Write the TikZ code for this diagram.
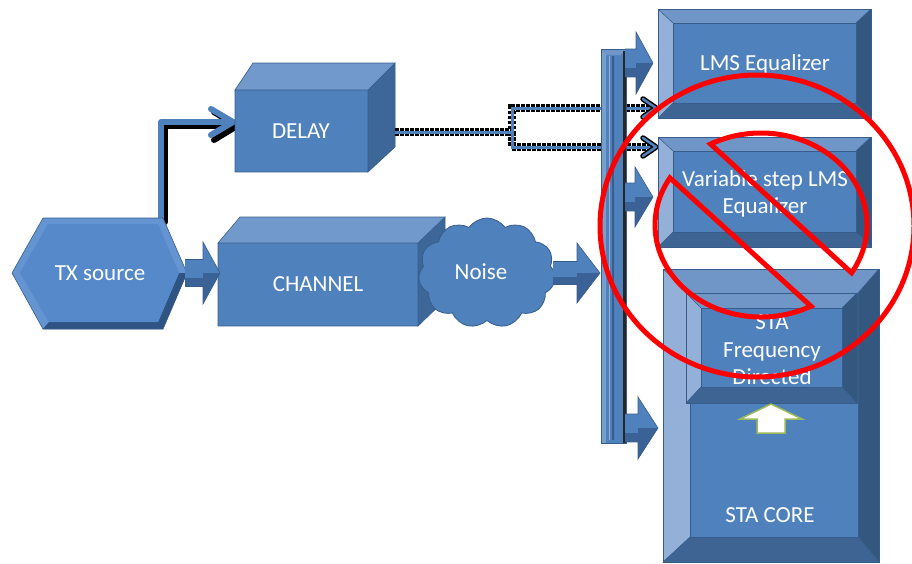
\documentclass[tikz,border=0pt]{standalone}
\usepackage{fontspec}
\setmainfont{Carlito}
\usetikzlibrary{shapes.symbols,arrows.meta,calc}
\definecolor{bmain}{HTML}{4F81BD}
\definecolor{btop}{HTML}{7199CB}
\definecolor{bside}{HTML}{3D6699}
\definecolor{bline}{HTML}{385D8A}
\definecolor{bevLeft}{HTML}{93B1D8}
\definecolor{bevTop}{HTML}{7096C8}
\definecolor{bevRight}{HTML}{34577F}
\definecolor{bevBot}{HTML}{3E6494}
\definecolor{hexface}{HTML}{5589C9}
\definecolor{hexdark}{HTML}{2F5382}
\definecolor{hexlight}{HTML}{6494D2}
\definecolor{adark}{HTML}{3A6296}
\definecolor{upgreen}{HTML}{9BBB59}
\newcommand{\mybevbox}[8]{%
  \fill[bevTop] (#1,#2) -- (#3,#2) -- ({#3-#7},{#2+#6}) -- ({#1+#5},{#2+#6}) -- cycle;
  \fill[bevLeft] (#1,#2) -- ({#1+#5},{#2+#6}) -- ({#1+#5},{#4-#8}) -- (#1,#4) -- cycle;
  \fill[bevRight] (#3,#2) -- (#3,#4) -- ({#3-#7},{#4-#8}) -- ({#3-#7},{#2+#6}) -- cycle;
  \fill[bevBot] (#1,#4) -- (#3,#4) -- ({#3-#7},{#4-#8}) -- ({#1+#5},{#4-#8}) -- cycle;
  \fill[bmain] ({#1+#5},{#2+#6}) rectangle ({#3-#7},{#4-#8});
  \draw[edge] (#1,#2) rectangle (#3,#4);
  \draw[edge] ({#1+#5},{#2+#6}) rectangle ({#3-#7},{#4-#8});
  \draw[edge] (#1,#2) -- ({#1+#5},{#2+#6}) (#3,#2) -- ({#3-#7},{#2+#6})
              (#1,#4) -- ({#1+#5},{#4-#8}) (#3,#4) -- ({#3-#7},{#4-#8});
}
\newcommand{\myarrow}[5]{% start, tip, head length, shaft half, head half
  \fill[bmain] ($(#1)+(0,-#4)$) rectangle ($(#2)+(-#3,#4)$);
  \fill[adark] ($(#1)+(0,{#4*0.35})$) rectangle ($(#2)+(-#3,#4)$);
  \fill[bmain] ($(#2)+(-#3,-#5)$) -- (#2) -- ($(#2)+(-#3,0)$) -- cycle;
  \fill[adark] ($(#2)+(-#3,0)$) -- (#2) -- ($(#2)+(-#3,#5)$) -- cycle;
  \draw[edge] ($(#1)+(0,-#4)$) -- ($(#2)+(-#3,-#4)$) -- ($(#2)+(-#3,-#5)$) -- (#2)
     -- ($(#2)+(-#3,#5)$) -- ($(#2)+(-#3,#4)$) -- ($(#1)+(0,#4)$);
}
\begin{document}
\begin{tikzpicture}[x=1pt,y=-1pt,
  txt/.style={text=white,font=\fontsize{23}{27.5}\selectfont,align=center,inner sep=0pt},
  redl/.style={draw=red,line width=5pt,line join=miter},
  edge/.style={draw=bline,line width=0.6pt},
  shadowline/.style={draw=black,line width=6pt,line join=round,line cap=round},
  blueline/.style={draw=bmain,line width=6pt,line join=round,line cap=round},
  dotblack/.style={draw=black,line width=8pt,dash pattern=on 3.5pt off 1.5pt},
  dotblue/.style={draw=bmain,line width=3pt}]
\useasboundingbox (0,0) rectangle (912,563);

% ---------- named points ----------
\coordinate (txTop) at (161,218);
\coordinate (dlL) at (233,122);
\coordinate (txR) at (185,273);
\coordinate (chL) at (220,273);
\coordinate (nzR) at (553,273);
\coordinate (busL) at (600,273);
\coordinate (b1) at (625,63);
\coordinate (lmsL) at (653,63);
\coordinate (b2) at (625,197);
\coordinate (varL) at (653,197);
\coordinate (b3) at (625,428);
\coordinate (coreL) at (658,428);
\coordinate (dlR) at (395,132);
\coordinate (split) at (512,132);
\coordinate (lmsIn) at (656,108);
\coordinate (varIn) at (656,147);

% ---------- elbow arrow TX -> DELAY ----------
\draw[shadowline] ([shift={(4,4)}]txTop) |- ([shift={(4,4)}]dlL);
\draw[shadowline] ([shift={(-19,-10)}]dlL) -- ([shift={(4,4)}]dlL) -- ([shift={(-19,18)}]dlL);
\draw[blueline] (txTop) |- (dlL);
\draw[blueline] ([shift={(-22,-13)}]dlL) -- (dlL) -- ([shift={(-22,13)}]dlL);

% ---------- TX source ----------
\fill[hexlight] (12,273)--(43,218)--(163,218)--(187,273)--(163,329)--(43,329)--cycle;
\fill[hexdark] (187,273)--(163,329)--(43,329)--(49,322)--(158,322)--(179,273)--cycle;
\fill[hexface] (20,273)--(48,224)--(158,224)--(179,273)--(158,322)--(49,322)--cycle;
\draw[edge] (12,273)--(43,218)--(163,218)--(187,273)--(163,329)--(43,329)--cycle;
\node[txt] (tx) at (100,273) {TX source};

% ---------- DELAY cube ----------
\fill[btop] (235,90)--(253,63)--(395,63)--(368,90)--cycle;
\fill[bside] (368,90)--(395,63)--(395,147)--(368,172)--cycle;
\fill[bmain] (235,90) rectangle (368,172);
\draw[edge] (235,90)--(253,63)--(395,63)--(368,90)--cycle
            (368,90)--(395,63)--(395,147)--(368,172)--cycle
            (235,90) rectangle (368,172);
\node[txt] (delay) at (301,131) {DELAY};

% ---------- CHANNEL cube ----------
\fill[btop] (218,243)--(240,217)--(445,217)--(418,243)--cycle;
\fill[bside] (418,243)--(445,217)--(445,300)--(418,326)--cycle;
\fill[bmain] (218,243) rectangle (418,326);
\draw[edge] (218,243)--(240,217)--(445,217)--(418,243)--cycle
            (418,243)--(445,217)--(445,300)--(418,326)--cycle
            (218,243) rectangle (418,326);
\node[txt] (channel) at (318,284) {CHANNEL};

% ---------- Noise cloud ----------
\node[cloud,cloud puffs=11,cloud puff arc=110,aspect=1.25,
      minimum width=137pt,minimum height=110pt,inner sep=0pt,
      fill=bmain,draw=bline,line width=0.8pt] (noiseC) at (487,273) {};
\node[txt] (noise) at (481,272) {Noise};

% ---------- block arrows ----------
\myarrow{txR}{chL}{17}{13.5}{31}
\myarrow{nzR}{busL}{23}{11.5}{30}

% ---------- dotted connectors DELAY -> equalizers ----------
\draw[dotblack] (dlR) -- (split) |- ([shift={(-6,0)}]lmsIn);
\draw[dotblack] (split) |- ([shift={(-6,0)}]varIn);
\draw[dotblue] (dlR) -- (split) |- ([shift={(-4,0)}]lmsIn);
\draw[dotblue] (split) |- ([shift={(-4,0)}]varIn);
\foreach \p in {lmsIn,varIn}{
  \draw[black,line width=5.5pt,line join=round,line cap=round]
    ([shift={(-13,-9)}]\p) -- (\p) -- ([shift={(-13,9)}]\p);
  \draw[bmain,line width=2.5pt,line join=round,line cap=round]
    ([shift={(-13,-9)}]\p) -- (\p) -- ([shift={(-13,9)}]\p);
}

% ---------- bus ----------
\fill[bmain] (601,49) rectangle (626,443);
\fill[bevLeft!60!bmain] (601,49) rectangle (606,443);
\fill[bevTop] (601,49) -- (626,49) -- (621,55) -- (606,55) -- cycle;
\draw[bline,line width=1.2pt] (613,56) -- (613,440);
\draw[bevLeft,line width=0.8pt] (609,56) -- (609,440);
\draw[black!85,line width=2.5pt] (624.5,51) -- (624.5,443);
\draw[edge] (601,49) rectangle (626,443);

\myarrow{b1}{lmsL}{17}{14}{31}
\myarrow{b2}{varL}{18}{14}{30}
\myarrow{b3}{coreL}{20}{14}{31}

% ---------- LMS Equalizer ----------
\mybevbox{658}{9}{871}{118}{15}{14}{15}{15}
\node[txt] (lms) at (765,64) {LMS Equalizer};

% ---------- Variable step LMS Equalizer ----------
\mybevbox{658}{137}{871}{247}{15}{14}{15}{15}
\node[txt] (var) at (765,194) {Variable step LMS\\Equalizer};

% ---------- STA CORE ----------
\mybevbox{663}{269}{879}{562}{27}{24}{21}{25}
\node[txt] (core) at (770,515) {STA CORE};

% ---------- STA Frequency Directed ----------
\mybevbox{686}{293}{857}{403}{15}{15}{15}{16}
\node[txt] (fd) at (772,350) {STA\\Frequency\\Directed};

% ---------- white up arrow ----------
\filldraw[fill=white,draw=upgreen,line width=1.5pt]
  (771,404) -- (802,419) -- (785,419) -- (785,433) -- (757,433) -- (757,419) -- (740,419) -- cycle;

% ---------- red prohibition sign ----------
\coordinate (nc) at (761,225);
\draw[redl] (757,226) ellipse [x radius=157, y radius=151];
\draw[redl] ($(nc)+(-118.4:106 and 92)$) -- ($(nc)+(31.3:106 and 92)$)
   arc[start angle=31.3,end angle=-118.4,x radius=106,y radius=92] -- cycle;
\draw[redl] ($(nc)+(-149.2:106 and 92)$) -- ($(nc)+(61.9:106 and 92)$)
   arc[start angle=61.9,end angle=210.8,x radius=106,y radius=92] -- cycle;
\end{tikzpicture}
\end{document}
